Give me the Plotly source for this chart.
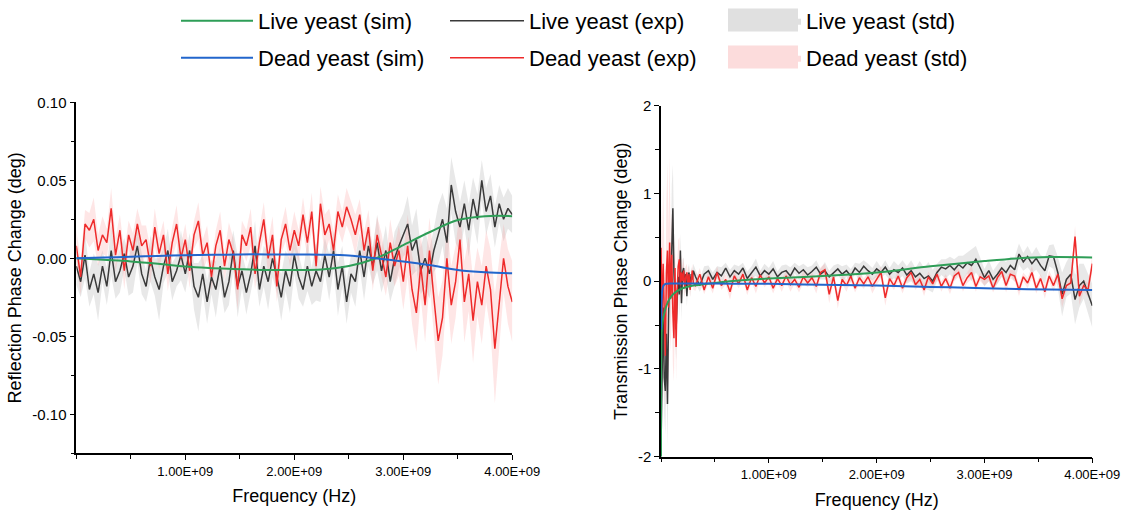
import numpy as np
import plotly.graph_objects as go

# ---------------- Reflection (left) ----------------
freq_l = np.linspace(0, 4.0e9, 101)  # Hz, 40 MHz grid

refl_live_exp = [
    -0.005, -0.015, 0.002, -0.020, -0.010, -0.022, -0.005, -0.018, 0.005, -0.015,
    -0.008, 0.003, -0.012, -0.005, 0.008, -0.010, -0.018, 0.000, -0.012, -0.020,
    -0.005, 0.005, -0.015, -0.008, 0.002, -0.010, 0.005, -0.018, -0.025, -0.010,
    -0.028, -0.012, -0.020, -0.005, -0.025, -0.015, 0.005, -0.018, -0.008, -0.022,
    -0.010, 0.008, -0.020, -0.005, -0.015, 0.000, -0.012, -0.025, -0.008, -0.018,
    0.002, -0.012, -0.020, -0.005, -0.018, -0.008, -0.015, 0.002, -0.012, 0.005,
    -0.020, -0.005, -0.028, -0.010, -0.015, 0.005, -0.012, 0.008, -0.005, 0.010,
    -0.008, 0.005, -0.015, 0.000, 0.008, 0.015, 0.022, 0.005, 0.012, -0.008,
    0.000, -0.010, 0.005, 0.015, 0.025, 0.010, 0.047, 0.030, 0.020, 0.035,
    0.018, 0.038, 0.025, 0.050, 0.030, 0.040, 0.020, 0.035, 0.025, 0.032,
    0.028,
]
refl_live_std = [
    0.012, 0.010, 0.015, 0.011, 0.013, 0.018, 0.010, 0.012, 0.016, 0.011,
    0.014, 0.010, 0.012, 0.017, 0.011, 0.013, 0.010, 0.015, 0.012, 0.020,
    0.011, 0.014, 0.012, 0.010, 0.016, 0.012, 0.011, 0.015, 0.022, 0.012,
    0.014, 0.011, 0.018, 0.012, 0.010, 0.015, 0.013, 0.020, 0.011, 0.014,
    0.012, 0.016, 0.011, 0.013, 0.018, 0.012, 0.010, 0.015, 0.013, 0.017,
    0.012, 0.014, 0.011, 0.016, 0.012, 0.019, 0.013, 0.011, 0.015, 0.012,
    0.017, 0.013, 0.014, 0.012, 0.016, 0.011, 0.015, 0.013, 0.012, 0.018,
    0.014, 0.016, 0.013, 0.017, 0.015, 0.014, 0.018, 0.016, 0.020, 0.015,
    0.018, 0.016, 0.014, 0.019, 0.017, 0.022, 0.018, 0.020, 0.016, 0.015,
    0.017, 0.014, 0.016, 0.013, 0.015, 0.014, 0.013, 0.012, 0.014, 0.013,
    0.012,
]
refl_dead_exp = [
    0.008, -0.012, 0.022, 0.018, 0.025, 0.005, 0.015, 0.010, 0.032, 0.002,
    0.018, -0.008, 0.015, 0.005, 0.022, 0.008, 0.012, -0.005, 0.020, 0.003,
    0.015, -0.010, 0.010, 0.022, 0.000, 0.012, -0.008, 0.015, 0.024, 0.002,
    0.010, -0.012, 0.008, 0.018, -0.005, 0.012, 0.003, -0.020, 0.015, 0.008,
    0.020, -0.010, 0.010, 0.025, 0.000, 0.015, -0.018, 0.012, 0.022, 0.005,
    0.018, 0.008, 0.028, 0.010, 0.030, -0.005, 0.035, 0.015, 0.022, 0.005,
    0.030, 0.020, 0.033, 0.025, 0.015, 0.028, 0.005, 0.020, -0.008, 0.015,
    0.002, -0.012, 0.010, -0.005, 0.005, -0.015, 0.008, -0.020, -0.035, -0.005,
    -0.030, 0.005, -0.025, -0.053, -0.038, 0.000, -0.030, -0.015, 0.012, -0.028,
    -0.010, -0.040, -0.015, -0.030, -0.005, -0.020, -0.058, -0.030, 0.000, -0.018,
    -0.028,
]
refl_dead_std = [
    0.010, 0.012, 0.009, 0.011, 0.014, 0.010, 0.012, 0.009, 0.013, 0.011,
    0.010, 0.012, 0.009, 0.011, 0.010, 0.013, 0.009, 0.011, 0.012, 0.010,
    0.009, 0.011, 0.010, 0.012, 0.009, 0.010, 0.011, 0.009, 0.012, 0.010,
    0.011, 0.009, 0.010, 0.012, 0.009, 0.011, 0.010, 0.013, 0.009, 0.010,
    0.012, 0.010, 0.009, 0.011, 0.010, 0.012, 0.010, 0.009, 0.011, 0.010,
    0.012, 0.010, 0.011, 0.009, 0.012, 0.010, 0.011, 0.013, 0.010, 0.012,
    0.011, 0.010, 0.012, 0.011, 0.013, 0.010, 0.012, 0.011, 0.013, 0.012,
    0.014, 0.012, 0.015, 0.013, 0.016, 0.018, 0.020, 0.022, 0.025, 0.020,
    0.024, 0.021, 0.026, 0.028, 0.024, 0.022, 0.025, 0.023, 0.020, 0.026,
    0.024, 0.027, 0.022, 0.025, 0.023, 0.026, 0.035, 0.028, 0.022, 0.024,
    0.026,
]
sim_freq_l = np.linspace(0, 4.0e9, 17)
refl_live_sim = [0.0, -0.001, -0.002, -0.0035, -0.0053, -0.0063, -0.0070, -0.0075, -0.0075,
                 -0.0072, -0.005, 0.0, 0.0085, 0.017, 0.0245, 0.027, 0.027]
refl_dead_sim = [0.0, 0.0005, 0.001, 0.0015, 0.002, 0.0022, 0.0025, 0.0025, 0.0025,
                 0.0023, 0.0018, 0.0, -0.002, -0.0045, -0.0075, -0.009, -0.0096]

# ---------------- Transmission (right) ----------------
freq_r = np.concatenate([np.arange(31) * 0.01e9, 0.32e9 + np.arange(93) * 0.04e9])

trans_live_exp = [
    -1.90, -0.80, -0.30, -1.10, -1.25, -0.60, -1.40, -0.40, 0.20, -0.10,
    0.50, 0.83, 0.10, -0.30, -0.55, -0.20, 0.05, -0.15, 0.35, -0.25,
    0.10, 0.15, -0.05, 0.08, -0.17, 0.05, 0.10, -0.08, 0.08, 0.02, 0.12,
    # 0.32e9 onwards
    0.05, -0.05, 0.08, 0.12, 0.02, 0.10, 0.06, 0.15, 0.05, 0.12,
    0.08, 0.15, 0.03, 0.10, 0.16, 0.06, 0.12, 0.08, 0.14, 0.05,
    0.10, 0.12, 0.06, 0.15, 0.09, 0.13, 0.07, 0.11, 0.16, 0.08,
    0.12, 0.05, 0.10, 0.14, 0.08, 0.12, 0.06, 0.15, 0.10, 0.17,
    0.12, 0.08, 0.14, 0.10, 0.16, 0.08, 0.13, 0.10, 0.15, 0.07,
    0.12, 0.05, 0.09, 0.03, 0.06, 0.00, 0.10, 0.16, 0.14, 0.18,
    0.13, 0.19, 0.15, 0.21, 0.18, 0.25, 0.15, 0.04, 0.12, 0.02,
    0.08, 0.15, 0.10, 0.18, 0.13, 0.31, 0.22, 0.28, 0.20, 0.26,
    0.18, 0.12, 0.29, 0.28, 0.10, -0.15, 0.02, 0.08, -0.21, -0.05,
    0.00, -0.13, -0.28,
]
trans_live_std = [
    0.30, 0.60, 0.50, 0.40, 0.50, 0.30, 0.50, 0.40, 0.30, 0.40,
    0.60, 0.50, 0.30, 0.30, 0.35, 0.20, 0.20, 0.25, 0.20, 0.20,
    0.15, 0.12, 0.12, 0.10, 0.12, 0.10, 0.10, 0.10, 0.08, 0.08, 0.08,
    0.08, 0.07, 0.09, 0.06, 0.08, 0.07, 0.10, 0.06, 0.08, 0.07,
    0.09, 0.06, 0.08, 0.07, 0.10, 0.06, 0.08, 0.07, 0.09, 0.06,
    0.08, 0.07, 0.10, 0.06, 0.08, 0.07, 0.09, 0.07, 0.08, 0.06,
    0.10, 0.07, 0.08, 0.06, 0.09, 0.07, 0.08, 0.06, 0.10, 0.07,
    0.08, 0.07, 0.09, 0.06, 0.08, 0.07, 0.10, 0.08, 0.09, 0.10,
    0.12, 0.10, 0.14, 0.12, 0.16, 0.13, 0.10, 0.09, 0.11, 0.10,
    0.12, 0.10, 0.14, 0.12, 0.18, 0.15, 0.12, 0.10, 0.12, 0.10,
    0.11, 0.10, 0.12, 0.10, 0.14, 0.12, 0.10, 0.12, 0.11, 0.13,
    0.12, 0.15, 0.12, 0.14, 0.18, 0.25, 0.20, 0.22, 0.28, 0.25,
    0.20, 0.22, 0.25,
]
trans_dead_exp = [
    0.38, -0.40, 0.20, -0.50, -0.85, 0.10, 0.35, -0.30, 0.44, -0.20,
    0.30, -0.36, -0.65, 0.15, -0.75, -0.10, 0.17, 0.25, -0.05, 0.10,
    0.00, 0.12, -0.08, 0.05, 0.10, -0.05, 0.08, -0.10, 0.05, 0.12, -0.02,
    # 0.32e9 onwards
    -0.05, 0.08, -0.10, 0.05, -0.08, 0.10, -0.05, 0.02, -0.12, 0.06,
    -0.03, 0.08, -0.10, 0.04, -0.06, 0.07, -0.02, 0.05, -0.08, 0.03,
    -0.05, 0.06, -0.04, 0.02, -0.07, 0.05, -0.02, 0.04, -0.06, 0.10,
    0.13, -0.15, 0.05, -0.22, 0.02, -0.05, 0.06, -0.08, 0.04, -0.03,
    0.05, -0.06, 0.02, 0.10, -0.19, 0.03, -0.05, 0.06, -0.08, 0.04,
    0.10, -0.04, 0.02, -0.10, 0.05, -0.03, 0.08, -0.06, 0.03, -0.08,
    0.06, 0.10, -0.05, 0.04, 0.10, -0.06, 0.05, 0.02, 0.06, -0.08,
    0.04, 0.11, -0.05, 0.08, 0.06, -0.10, 0.05, -0.02, 0.10, -0.08,
    0.03, -0.12, 0.06, -0.05, 0.08, -0.20, -0.05, -0.02, 0.51, -0.17,
    -0.05, -0.10, 0.20,
]
trans_dead_std = [
    0.50, 0.80, 0.90, 0.70, 0.60, 0.80, 1.00, 0.90, 1.00, 0.60,
    0.50, 0.60, 0.50, 0.40, 0.40, 0.30, 0.30, 0.25, 0.20, 0.20,
    0.15, 0.15, 0.12, 0.12, 0.10, 0.10, 0.10, 0.08, 0.08, 0.08, 0.08,
    0.06, 0.07, 0.05, 0.08, 0.06, 0.07, 0.05, 0.06, 0.09, 0.06,
    0.05, 0.07, 0.06, 0.05, 0.08, 0.06, 0.05, 0.07, 0.06, 0.05,
    0.07, 0.06, 0.08, 0.05, 0.06, 0.07, 0.05, 0.06, 0.08, 0.06,
    0.07, 0.10, 0.06, 0.09, 0.05, 0.07, 0.06, 0.05, 0.07, 0.06,
    0.05, 0.08, 0.06, 0.07, 0.09, 0.06, 0.05, 0.07, 0.06, 0.05,
    0.08, 0.06, 0.05, 0.07, 0.06, 0.05, 0.07, 0.06, 0.05, 0.07,
    0.06, 0.05, 0.07, 0.06, 0.08, 0.06, 0.05, 0.07, 0.06, 0.05,
    0.07, 0.06, 0.08, 0.05, 0.06, 0.07, 0.05, 0.06, 0.07, 0.06,
    0.05, 0.08, 0.06, 0.07, 0.06, 0.10, 0.07, 0.08, 0.12, 0.10,
    0.07, 0.08, 0.10,
]
sim_freq_r = [0.0, 0.005e9, 0.01e9, 0.02e9, 0.03e9, 0.05e9, 0.08e9, 0.12e9, 0.2e9, 0.3e9,
              0.5e9, 0.75e9, 1.0e9, 1.5e9, 2.0e9, 2.5e9, 3.0e9, 3.3e9, 3.6e9, 4.0e9]
trans_live_sim = [-2.0, -0.60, -0.50, -0.42, -0.37, -0.28, -0.20, -0.14, -0.08, -0.05,
                  -0.02, 0.01, 0.03, 0.06, 0.10, 0.17, 0.23, 0.26, 0.275, 0.27]
trans_dead_sim = [-0.55, -0.25, -0.12, -0.06, -0.04, -0.03, -0.026, -0.025, -0.025, -0.026,
                  -0.027, -0.028, -0.03, -0.04, -0.05, -0.065, -0.08, -0.09, -0.095, -0.10]

# tick labels
x_tickvals = [1e9, 2e9, 3e9, 4e9]
x_ticktext = ["1.00E+09", "2.00E+09", "3.00E+09", "4.00E+09"]
yl_tickvals = [0.10, 0.05, 0.0, -0.05, -0.10]
yl_ticktext = ["0.10", "0.05", "0.00", "-0.05", "-0.10"]
yr_tickvals = [2, 1, 0, -1, -2]
yr_ticktext = ["2", "1", "0", "-1", "-2"]

# ---------------- style ----------------
C_GREEN = "#2e9e57"
C_BLUE = "#2266cc"
C_BLACK = "#3a3a3a"
C_RED = "#ee2a2a"
F_GREY = "rgba(185,185,185,0.32)"
F_PINK = "rgba(250,140,140,0.22)"
SW_GREY = "#e0e0e0"
SW_PINK = "#fcdcdc"
FONT = "Liberation Sans, Arial, sans-serif"
W, H = 1128, 515

fig = go.Figure()


def band(x, y, s, color, xa, ya):
    x = list(x)
    up = [a + b for a, b in zip(y, s)]
    lo = [a - b for a, b in zip(y, s)]
    fig.add_trace(go.Scatter(
        x=x + x[::-1], y=up + lo[::-1], fill="toself", fillcolor=color,
        line=dict(width=0, color=color), mode="lines", xaxis=xa, yaxis=ya,
        showlegend=False, hoverinfo="skip"))


def line(x, y, color, width, name, xa, ya, legend, show, shape="linear"):
    fig.add_trace(go.Scatter(
        x=list(x), y=y, mode="lines", line=dict(color=color, width=width, shape=shape),
        name=name, xaxis=xa, yaxis=ya, legend=legend, showlegend=show))


# left
band(freq_l, refl_live_exp, refl_live_std, F_GREY, "x", "y")
band(freq_l, refl_dead_exp, refl_dead_std, F_PINK, "x", "y")
line(freq_l, refl_live_exp, C_BLACK, 1.5, "Live yeast (exp)", "x", "y", "legend2", True)
line(freq_l, refl_dead_exp, C_RED, 1.5, "Dead yeast (exp)", "x", "y", "legend5", True)
line(sim_freq_l, refl_live_sim, C_GREEN, 2, "Live yeast (sim)", "x", "y", "legend", True, "spline")
line(sim_freq_l, refl_dead_sim, C_BLUE, 2, "Dead yeast (sim)", "x", "y", "legend4", True, "spline")
# right
band(freq_r, trans_live_exp, trans_live_std, F_GREY, "x2", "y2")
band(freq_r, trans_dead_exp, trans_dead_std, F_PINK, "x2", "y2")
line(freq_r, trans_live_exp, C_BLACK, 1.5, "Live yeast (exp)", "x2", "y2", "legend2", False)
line(freq_r, trans_dead_exp, C_RED, 1.5, "Dead yeast (exp)", "x2", "y2", "legend5", False)
line(sim_freq_r, trans_live_sim, C_GREEN, 2, "Live yeast (sim)", "x2", "y2", "legend", False, "spline")
line(sim_freq_r, trans_dead_sim, C_BLUE, 2, "Dead yeast (sim)", "x2", "y2", "legend4", False, "spline")

# legend entries for the std bands (opaque swatch colour)
for nm, col, lg in [("Live yeast (std)", SW_GREY, "legend3"), ("Dead yeast (std)", SW_PINK, "legend6")]:
    fig.add_trace(go.Scatter(x=[None], y=[None], mode="lines", fill="toself", fillcolor=col,
                             line=dict(width=0, color=col), name=nm, legend=lg,
                             showlegend=True, xaxis="x", yaxis="y"))

axis_common = dict(
    showline=True, linecolor="black", linewidth=1.5, ticks="outside", ticklen=5,
    tickwidth=1.2, tickcolor="black", showgrid=False, zeroline=False, automargin=False,
    tickfont=dict(family=FONT, size=13, color="black"),
)
xcommon = dict(axis_common, range=[0, 4e9], tickvals=x_tickvals, ticktext=x_ticktext,
               minor=dict(dtick=0.5e9, tick0=0, ticks="outside", ticklen=4, tickcolor="black",
                          tickwidth=1.2, showgrid=False),
               title=dict(text="Frequency (Hz)", font=dict(family=FONT, size=18, color="black"),
                          standoff=12))

fig.update_layout(
    width=W, height=H, margin=dict(l=0, r=0, t=0, b=0, autoexpand=False),
    paper_bgcolor="white", plot_bgcolor="white",
    font=dict(family=FONT, color="black"),
    xaxis=dict(xcommon, domain=[76.3 / W, 512.3 / W], anchor="y"),
    yaxis=dict(axis_common, domain=[1 - 453.3 / H, 1 - 102.3 / H], anchor="x",
               range=[-0.125, 0.10], tickvals=yl_tickvals, ticktext=yl_ticktext,
               tickfont=dict(family=FONT, size=15, color="black"),
               minor=dict(dtick=0.025, tick0=0, ticks="outside", ticklen=4, tickcolor="black",
                          tickwidth=1.2, showgrid=False),
               title=dict(text="Reflection Phase Change (deg)",
                          font=dict(family=FONT, size=18, color="black"), standoff=6)),
    xaxis2=dict(xcommon, domain=[661 / W, 1092.3 / W], anchor="y2"),
    yaxis2=dict(axis_common, domain=[1 - 456.7 / H, 1 - 105.7 / H], anchor="x2",
                range=[-2, 2], tickvals=yr_tickvals, ticktext=yr_ticktext,
                tickfont=dict(family=FONT, size=15, color="black"),
                minor=dict(dtick=0.5, tick0=0, ticks="outside", ticklen=4, tickcolor="black",
                           tickwidth=1.2, showgrid=False),
                title=dict(text="Transmission Phase Change (deg)",
                           font=dict(family=FONT, size=18, color="black"), standoff=6)),
)

leg_font = dict(family=FONT, size=22, color="black")
cols = [176, 445, 724]
row_tops = [0, 37]
names = ["legend", "legend2", "legend3", "legend4", "legend5", "legend6"]
for i, nm in enumerate(names):
    r, c = divmod(i, 3)
    fig.update_layout({nm: dict(
        xref="container", yref="container", x=cols[c] / W, y=1 - row_tops[r] / H,
        xanchor="left", yanchor="top", orientation="h", font=leg_font,
        bgcolor="rgba(0,0,0,0)", borderwidth=0, itemwidth=72 if c != 1 else 74,
        itemclick=False,
    )})

# enlarged swatch boxes behind the std legend icons (legend decoration)
for yc, col in [(20, SW_GREY), (57, SW_PINK)]:
    fig.add_shape(type="rect", xref="paper", yref="paper", layer="below",
                  x0=728 / W, x1=798 / W, y0=1 - (yc + 11.5) / H, y1=1 - (yc - 11.5) / H,
                  fillcolor=col, line=dict(width=0))

fig.write_html("out.html", config={"displayModeBar": False},
               post_script="document.body.style.margin='0';document.body.style.overflow='hidden';")
